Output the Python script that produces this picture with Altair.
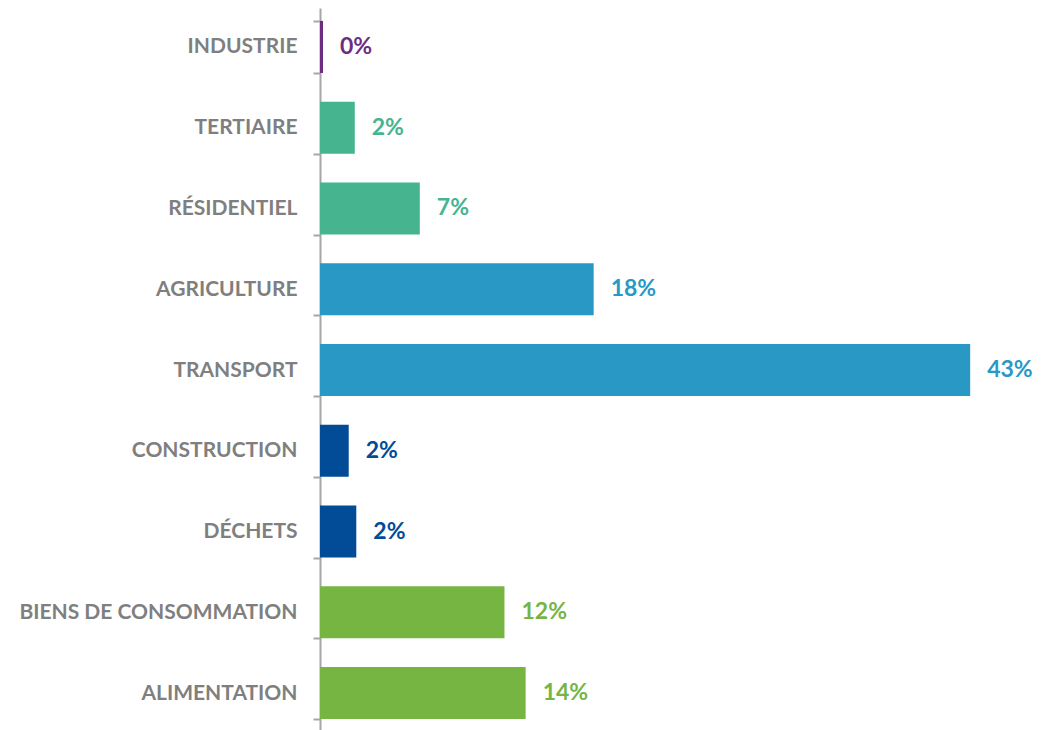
import altair as alt
import pandas as pd

categories = ["INDUSTRIE", "TERTIAIRE", "RÉSIDENTIEL", "AGRICULTURE", "TRANSPORT",
              "CONSTRUCTION", "DÉCHETS", "BIENS DE CONSOMMATION", "ALIMENTATION"]
values = [0.2, 2.3, 6.6, 18.1, 43.0, 1.9, 2.4, 12.2, 13.6]
labels = ["0%", "2%", "7%", "18%", "43%", "2%", "2%", "12%", "14%"]
groups = ["g1", "g2", "g2", "g3", "g3", "g4", "g4", "g5", "g5"]
group_domain = ["g1", "g2", "g3", "g4", "g5"]
group_colors = ["#6E2C80", "#45B48F", "#2A98C5", "#024C97", "#77B543"]

df = pd.DataFrame({"cat": categories, "val": values, "lab": labels, "grp": groups})

FONT = "Lato"

y_enc = alt.Y("cat:N", sort=categories, title=None,
              scale=alt.Scale(paddingInner=0.355, paddingOuter=0.16),
              axis=alt.Axis(labelFont=FONT, labelFontSize=21, labelFontWeight="bold",
                            labelColor="#7F7F7F", labelPadding=16, tickSize=7,
                            tickColor="#A6A6A6", domainColor="#A6A6A6", domainWidth=2,
                            tickWidth=2, tickBand="extent", labelLimit=400))
x_enc = alt.X("val:Q", title=None, scale=alt.Scale(domain=[0, 47.75], nice=False),
              axis=None)
color_enc = alt.Color("grp:N", scale=alt.Scale(domain=group_domain, range=group_colors),
                      legend=None)

bars = alt.Chart(df).mark_bar().encode(y=y_enc, x=x_enc, color=color_enc)
text = alt.Chart(df).mark_text(align="left", baseline="middle", dx=17, font=FONT,
                               fontSize=23, fontWeight="bold").encode(
    y=alt.Y("cat:N", sort=categories), x="val:Q", text="lab:N", color=color_enc)

chart = alt.layer(bars, text).properties(
    width=722, height=724,
    padding={"left": 312, "top": 0, "right": 0, "bottom": 0},
    autosize=alt.AutoSizeParams(type="none"),
).configure_view(stroke=None)

chart.save("out.html", embed_options={"renderer": "svg", "actions": False})
